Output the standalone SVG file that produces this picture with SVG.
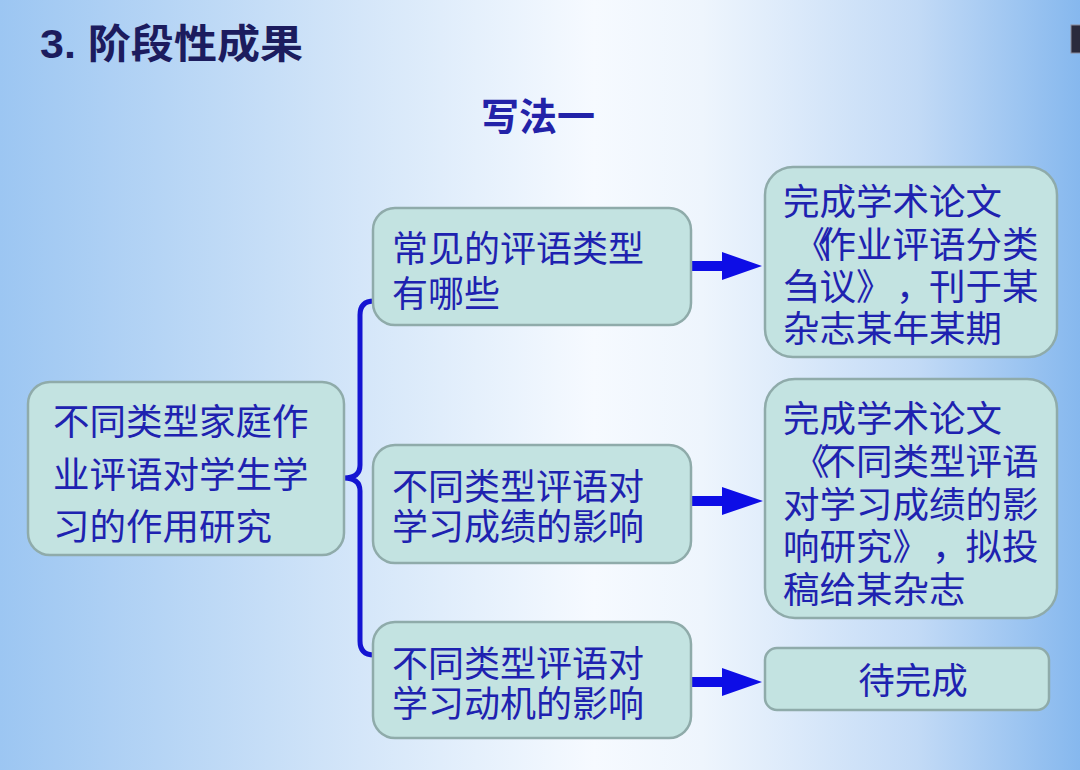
<svg xmlns="http://www.w3.org/2000/svg" width="1080" height="770" viewBox="0 0 1080 770">
  <defs>
    <linearGradient id="bg" x1="0" y1="0" x2="1" y2="0">
      <stop offset="0" stop-color="#9cc6f2"/>
      <stop offset="0.3" stop-color="#cfe3f8"/>
      <stop offset="0.55" stop-color="#f6faff"/>
      <stop offset="0.65" stop-color="#eef5fd"/>
      <stop offset="0.85" stop-color="#c2daf6"/>
      <stop offset="1" stop-color="#86b8ee"/>
    </linearGradient>
    <style>
      .box { fill: #c3e3e1; stroke: #8fabaa; stroke-width: 2.5; }
      .t { font-family: "Noto Sans CJK SC", "Noto Sans", sans-serif; fill: #1e22b0; font-size: 36.5px; }
      .tm { font-size: 36px; }
      .arrow { fill: #0d0de6; }
      .brace { fill: none; stroke: #1414d2; stroke-width: 5; stroke-linejoin: round; stroke-linecap: round; }
    </style>
  </defs>

  <rect x="0" y="0" width="1080" height="770" fill="url(#bg)"/>
  <rect x="1071" y="25" width="12" height="28" fill="#2a2a3c" stroke="#8a8a9a" stroke-width="1"/>

  <text x="40" y="58" textLength="263" lengthAdjust="spacingAndGlyphs" font-family="'Liberation Sans', 'Noto Sans CJK SC', sans-serif" font-weight="bold" font-size="40" fill="#1c1c5e">3. <tspan font-family="'Noto Sans CJK SC', sans-serif">阶段性成果</tspan></text>
  <text x="538" y="130" text-anchor="middle" font-family="'Noto Sans CJK SC', sans-serif" font-weight="bold" font-size="38" fill="#2222a8">写法一</text>

  <g id="connectors">
    <path class="brace" d="M374,301 Q360,301 360,315 L360,465 Q360,478 344,478 Q360,478 360,491 L360,641 Q360,655 374,655"/>
    <polygon class="arrow" points="688,261 722,261 722,252 762,266 722,280 722,271 688,271"/>
    <polygon class="arrow" points="688,496 722,496 722,487 763,501 722,515 722,506 688,506"/>
    <polygon class="arrow" points="688,677 722,677 722,668 762,682 722,696 722,687 688,687"/>
  </g>

  <g id="node-root">
    <rect class="box" x="28" y="382" width="316" height="173" rx="22"/>
    <text class="t"><tspan x="53" y="435">不同类型家庭作</tspan><tspan x="53" y="488">业评语对学生学</tspan><tspan x="53" y="540">习的作用研究</tspan></text>
  </g>

  <g id="node-q1">
    <rect class="box" x="373" y="208" width="318" height="117" rx="22"/>
    <text class="t tm"><tspan x="392" y="262">常见的评语类型</tspan><tspan x="392" y="307">有哪些</tspan></text>
  </g>

  <g id="node-q2">
    <rect class="box" x="373" y="445" width="318" height="118" rx="22"/>
    <text class="t tm"><tspan x="392" y="500">不同类型评语对</tspan><tspan x="392" y="540">学习成绩的影响</tspan></text>
  </g>

  <g id="node-q3">
    <rect class="box" x="373" y="622" width="318" height="116" rx="22"/>
    <text class="t tm"><tspan x="392" y="677">不同类型评语对</tspan><tspan x="392" y="717">学习动机的影响</tspan></text>
  </g>

  <g id="node-r1">
    <rect class="box" x="765" y="167" width="292" height="190" rx="28"/>
    <text class="t"><tspan x="783" y="215">完成学术论文</tspan><tspan x="794 819.5 856 892.5 929 965.5 1002" y="258">《作业评语分类</tspan><tspan x="783 819.5 856 896 929 965.5 1002" y="300">刍议》，刊于某</tspan><tspan x="783" y="342">杂志某年某期</tspan></text>
  </g>

  <g id="node-r2">
    <rect class="box" x="765" y="379" width="292" height="239" rx="30"/>
    <text class="t"><tspan x="783" y="432">完成学术论文</tspan><tspan x="793 819.5 856 892.5 929 965.5 1002" y="475">《不同类型评语</tspan><tspan x="783" y="518">对学习成绩的影</tspan><tspan x="783 819.5 856 892.5 932 965.5 1002" y="560">响研究》，拟投</tspan><tspan x="783" y="603">稿给某杂志</tspan></text>
  </g>

  <g id="node-r3">
    <rect class="box" x="765" y="648" width="284" height="62" rx="12"/>
    <text class="t" x="913" y="694" text-anchor="middle">待完成</text>
  </g>
</svg>
